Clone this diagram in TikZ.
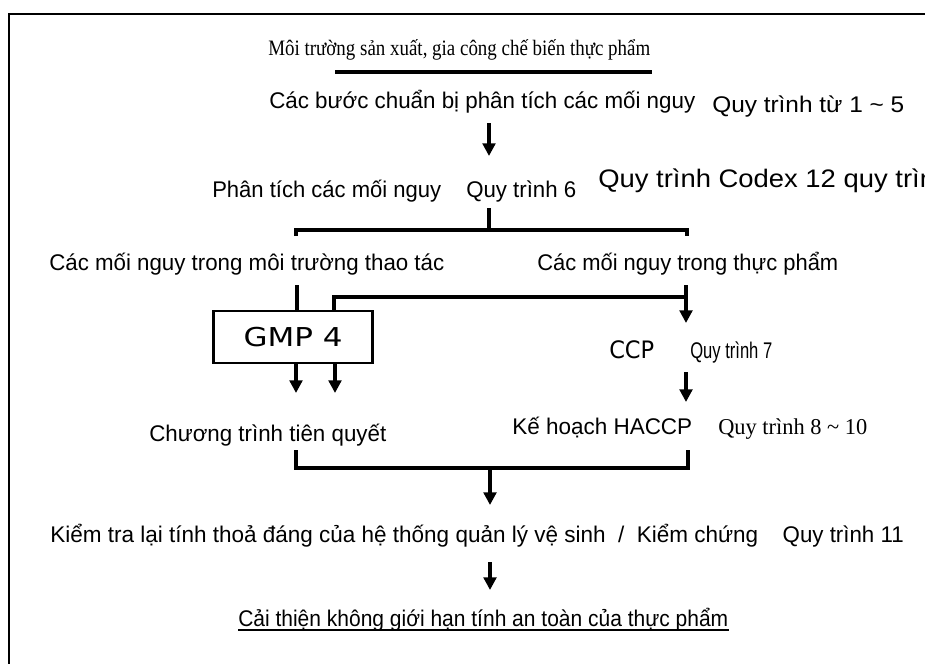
\documentclass[tikz,border=0pt]{standalone}
\usepackage{fontspec}
\setmainfont{Liberation Serif}
\setsansfont{Liberation Sans}
\newfontfamily\verd{DejaVu Sans}
\usepackage{graphicx}
\usetikzlibrary{arrows.meta}
\newdimen\pxu \pxu=0.75pt
\newcommand\fitw[2]{\resizebox{#1\pxu}{\height}{#2}}
\begin{document}
\begin{tikzpicture}[x=0.75pt,y=-0.75pt,
  sans/.style={inner sep=0pt,anchor=base west,font=\sffamily\fontsize{17}{20}\selectfont},
  serif/.style={inner sep=0pt,anchor=base west,font=\rmfamily\fontsize{16.5}{19}\selectfont},
  conn/.style={line width=2.6pt,line join=miter},
  arr/.style={line width=2.4pt,-{Triangle[width=9.5pt,length=9.5pt]}},
  gmpbox/.style={draw,line width=2.2pt,minimum width=159*0.75pt,minimum height=52*0.75pt,inner sep=0pt}]
\useasboundingbox (0,0) rectangle (925,664);
\clip (0,0) rectangle (925,664);
\draw[line width=1.6pt] (9,664) -- (9,14) -- (925,14);

\node[serif] (title) at (268,55) {\fitw{382}{Môi trường sản xuất, gia công chế biến thực phẩm}};
\coordinate (ul1) at (335,72); \coordinate (ul2) at (652,72);
\draw[line width=2.6pt] (ul1) -- (ul2);

\node[sans] (prep) at (269,108) {\fitw{426}{Các bước chuẩn bị phân tích các mối nguy}};
\node[sans] (q15) at (712,112) {\fitw{192}{Quy trình từ 1 \textasciitilde{} 5}};
\node[sans,font=\sffamily\fontsize{19}{22}\selectfont] (codex) at (598,187) {\fitw{352}{Quy trình Codex 12 quy trình}};

\coordinate (a1s) at (489,123); \coordinate (a1e) at (489,156);
\draw[arr] (a1s) -- (a1e);

\node[sans] (haz) at (212,197) {\fitw{229}{Phân tích các mối nguy}};
\node[sans] (q6) at (466,197) {\fitw{110}{Quy trình 6}};

\coordinate (b1top) at (489,208); \coordinate (b1mid) at (489,230);
\coordinate (b1l) at (296,236); \coordinate (b1r) at (687,236);
\draw[conn] (b1top) -- (b1mid);
\draw[conn] (b1l) -- (296,230) -- (687,230) -- (b1r);

\node[sans] (envhaz) at (49,270) {\fitw{395}{Các mối nguy trong môi trường thao tác}};
\node[sans] (foodhaz) at (537,270) {\fitw{301}{Các mối nguy trong thực phẩm}};

\node[gmpbox] (gmp) at (293,337) {\verd\fontsize{19.5}{22}\selectfont\fitw{99}{GMP 4}};

\coordinate (e1) at (297,285);
\draw[conn] (e1) -- (gmp.north -| e1);
\coordinate (f1) at (686,285); \coordinate (f2) at (686,323);
\draw[arr] (f1) -- (f2);
\coordinate (h1) at (686,297); \coordinate (h2) at (334,297);
\draw[conn] (h1) -- (h2) -- (gmp.north -| h2);

\node[sans,font=\verd\fontsize{18}{21}\selectfont] (ccp) at (609,358) {\fitw{45}{CCP}};
\node[sans] (q7) at (690,358) {\fitw{82}{Quy trình 7}};

\coordinate (g1) at (296,393); \coordinate (g2) at (335,393);
\draw[arr] (gmp.south -| g1) -- (g1);
\draw[arr] (gmp.south -| g2) -- (g2);

\coordinate (c1) at (686,372); \coordinate (c2) at (686,402);
\draw[arr] (c1) -- (c2);

\node[sans] (prereq) at (149,441) {\fitw{237}{Chương trình tiên quyết}};
\node[sans] (haccp) at (512,434) {\fitw{180}{Kế hoạch HACCP}};
\node[serif,font=\rmfamily\fontsize{17}{20}\selectfont] (q810) at (718,434) {\fitw{149}{Quy trình 8 \textasciitilde{} 10}};

\coordinate (b2l) at (296,450); \coordinate (b2r) at (688,450);
\draw[conn] (b2l) -- (296,468) -- (688,468) -- (b2r);
\coordinate (a2s) at (490,468); \coordinate (a2e) at (490,505);
\draw[arr] (a2s) -- (a2e);

\node[sans] (verify) at (50,542) {\fitw{708}{Kiểm tra lại tính thoả đáng của hệ thống quản lý vệ sinh \ / \ Kiểm chứng}};
\node[sans,anchor=base east] (q11) at (904,542) {\fitw{121}{Quy trình 11}};

\coordinate (a3s) at (490,562); \coordinate (a3e) at (490,590);
\draw[arr] (a3s) -- (a3e);

\node[sans] (improve) at (238,626) {\fitw{490}{Cải thiện không giới hạn tính an toàn của thực phẩm}};
\draw[line width=0.9pt] ([yshift=-3pt]improve.base west) -- ([yshift=-3pt]improve.base east);
\end{tikzpicture}
\end{document}
